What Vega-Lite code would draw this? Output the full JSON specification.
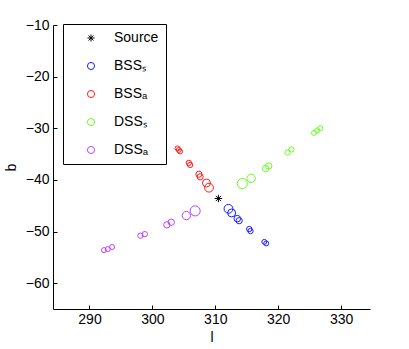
{
  "$schema": "https://vega.github.io/schema/vega-lite/v6.json",
  "width": 317,
  "height": 284,
  "autosize": {"type": "none"},
  "padding": {"left": 53, "top": 25, "right": 39, "bottom": 40},
  "background": "white",
  "config": {
    "view": {"stroke": null},
    "font": "Liberation Sans",
    "axis": {
      "grid": false,
      "domainColor": "black",
      "tickColor": "black",
      "labelColor": "black",
      "titleColor": "black",
      "labelFont": "Liberation Sans",
      "titleFont": "Liberation Sans",
      "labelFontSize": 14,
      "titleFontSize": 14,
      "titleFontWeight": "normal",
      "tickSize": -4,
      "domainWidth": 1,
      "tickWidth": 1
    }
  },
  "data": {
    "values": [
      {"series": "Source", "l": 310.5, "b": -43.6, "mag": 4.2},
      {"series": "BSS_S", "l": 312.1, "b": -45.6, "mag": 5.0},
      {"series": "BSS_S", "l": 312.6, "b": -46.4, "mag": 4.5},
      {"series": "BSS_S", "l": 313.5, "b": -47.5, "mag": 3.7},
      {"series": "BSS_S", "l": 313.8, "b": -47.9, "mag": 3.5},
      {"series": "BSS_S", "l": 315.4, "b": -49.5, "mag": 3.0},
      {"series": "BSS_S", "l": 315.6, "b": -49.9, "mag": 3.0},
      {"series": "BSS_S", "l": 317.8, "b": -52.0, "mag": 2.8},
      {"series": "BSS_S", "l": 318.1, "b": -52.3, "mag": 2.8},
      {"series": "BSS_A", "l": 304.0, "b": -33.9, "mag": 2.8},
      {"series": "BSS_A", "l": 304.2, "b": -34.2, "mag": 2.8},
      {"series": "BSS_A", "l": 304.4, "b": -34.5, "mag": 2.8},
      {"series": "BSS_A", "l": 305.8, "b": -36.7, "mag": 3.0},
      {"series": "BSS_A", "l": 306.0, "b": -37.1, "mag": 3.0},
      {"series": "BSS_A", "l": 307.4, "b": -38.9, "mag": 3.5},
      {"series": "BSS_A", "l": 307.6, "b": -39.4, "mag": 3.5},
      {"series": "BSS_A", "l": 308.6, "b": -40.6, "mag": 4.5},
      {"series": "BSS_A", "l": 309.0, "b": -41.5, "mag": 5.0},
      {"series": "DSS_S", "l": 314.3, "b": -40.7, "mag": 5.7},
      {"series": "DSS_S", "l": 315.7, "b": -39.7, "mag": 4.7},
      {"series": "DSS_S", "l": 318.0, "b": -37.8, "mag": 3.6},
      {"series": "DSS_S", "l": 318.5, "b": -37.3, "mag": 3.6},
      {"series": "DSS_S", "l": 321.5, "b": -34.7, "mag": 3.0},
      {"series": "DSS_S", "l": 322.1, "b": -34.1, "mag": 3.0},
      {"series": "DSS_S", "l": 325.7, "b": -30.9, "mag": 2.8},
      {"series": "DSS_S", "l": 326.2, "b": -30.4, "mag": 2.8},
      {"series": "DSS_S", "l": 326.7, "b": -30.0, "mag": 2.8},
      {"series": "DSS_A", "l": 292.3, "b": -53.6, "mag": 2.8},
      {"series": "DSS_A", "l": 292.9, "b": -53.4, "mag": 2.8},
      {"series": "DSS_A", "l": 293.6, "b": -53.0, "mag": 2.8},
      {"series": "DSS_A", "l": 298.1, "b": -50.8, "mag": 3.0},
      {"series": "DSS_A", "l": 298.8, "b": -50.5, "mag": 3.0},
      {"series": "DSS_A", "l": 302.3, "b": -48.7, "mag": 3.6},
      {"series": "DSS_A", "l": 303.0, "b": -48.2, "mag": 3.6},
      {"series": "DSS_A", "l": 305.4, "b": -46.9, "mag": 4.7},
      {"series": "DSS_A", "l": 306.8, "b": -46.0, "mag": 5.7}
    ]
  },
  "mark": {"type": "point", "filled": false, "strokeWidth": 1, "opacity": 1},
  "encoding": {
    "x": {
      "field": "l", "type": "quantitative", "title": "l",
      "scale": {"domain": [284.2, 334.6], "nice": false, "zero": false},
      "axis": {"values": [290, 300, 310, 320, 330], "labelPadding": 7, "titlePadding": 4}
    },
    "y": {
      "field": "b", "type": "quantitative", "title": "b",
      "scale": {"domain": [-65, -10], "nice": false, "zero": false},
      "axis": {"values": [-60, -50, -40, -30, -20, -10], "labelPadding": 8, "titlePadding": 7}
    },
    "color": {
      "field": "series", "type": "nominal",
      "scale": {
        "domain": ["Source", "BSS_S", "BSS_A", "DSS_S", "DSS_A"],
        "range": ["#000000", "#1a1aff", "#ff1a1a", "#66ff1a", "#c040ff"]
      },
      "legend": {
        "title": null,
        "orient": "none",
        "legendX": 10,
        "legendY": -1,
        "strokeColor": "black",
        "fillColor": "white",
        "padding": 7,
        "symbolOffset": 14,
        "labelOffset": 16,
        "rowPadding": 14,
        "labelFontSize": 14,
        "labelColor": "black",
        "symbolSize": 50,
        "symbolStrokeWidth": 1,
        "labelExpr": "datum.label == 'BSS_S' ? 'BSSₛ' : datum.label == 'BSS_A' ? 'BSSₐ' : datum.label == 'DSS_S' ? 'DSSₛ' : datum.label == 'DSS_A' ? 'DSSₐ' : datum.label"
      }
    },
    "shape": {
      "field": "series", "type": "nominal",
      "scale": {
        "domain": ["Source", "BSS_S", "BSS_A", "DSS_S", "DSS_A"],
        "range": ["M-1,0H1M0,-1V1M-0.7,-0.7L0.7,0.7M-0.7,0.7L0.7,-0.7", "circle", "circle", "circle", "circle"]
      },
      "legend": null
    },
    "size": {
      "field": "mag", "type": "quantitative",
      "scale": {"type": "pow", "exponent": 2, "domain": [0, 6], "range": [0, 113]},
      "legend": null
    }
  }
}
